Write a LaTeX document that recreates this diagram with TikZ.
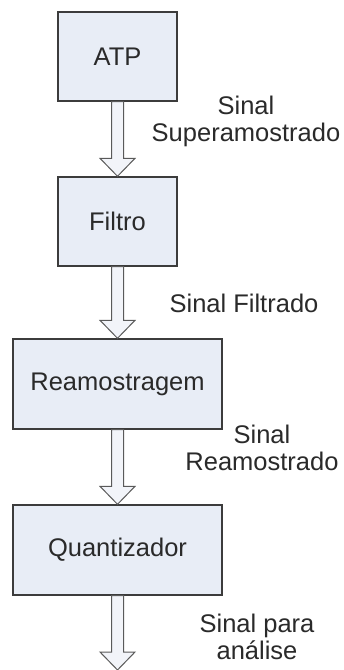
\documentclass[tikz,border=0pt]{standalone}
\usepackage{fontspec}
\setmainfont{Liberation Sans}
\usetikzlibrary{calc}

\definecolor{boxfill}{HTML}{E8EDF6}
\definecolor{boxline}{HTML}{3C3C3C}
\definecolor{arrowfill}{HTML}{F2F4F9}
\definecolor{arrowline}{HTML}{5A5A5A}
\definecolor{txt}{HTML}{2A2A2A}

\tikzset{
  stage/.style={draw=boxline, fill=boxfill, line width=1.4pt, inner sep=0pt,
    text=txt, font=\fontsize{25.5}{28}\selectfont},
  sigtext/.style={text=txt, align=center, inner sep=0pt,
    font=\fontsize{25.5}{27}\selectfont},
  blockarrow/.style={draw=arrowline, fill=arrowfill, line width=1pt, line join=miter}
}

% hollow block arrow from the bottom of #1 to point #2 (shaft 12, head 35 wide, 18 long)
\newcommand{\flowarrow}[2]{%
  \path[blockarrow]
    ($(#1.south)+(-6,0)$) -- ($(#2)+(-6,-18)$) -- ($(#2)+(-17.5,-18)$) --
    (#2) -- ($(#2)+(17.5,-18)$) -- ($(#2)+(6,-18)$) -- ($(#1.south)+(6,0)$) -- cycle;}

\begin{document}
\begin{tikzpicture}[x=1pt,y=-1pt]
  \useasboundingbox[fill=white] (0,0) rectangle (344,670);

  \node[stage, minimum width=119pt, minimum height=89pt] (atp)    at (117.5,56.5) {ATP};
  \node[stage, minimum width=119pt, minimum height=89pt] (filtro) at (117.5,221.5) {Filtro};
  \node[stage, minimum width=209pt, minimum height=90pt] (ream)   at (117.5,384) {Reamostragem};
  \node[stage, minimum width=209pt, minimum height=90pt] (quant)  at (117.5,550) {Quantizador};
  \coordinate (out) at (117.5,670);

  \flowarrow{atp}{filtro.north}
  \flowarrow{filtro}{ream.north}
  \flowarrow{ream}{quant.north}
  \flowarrow{quant}{out}

  \node[sigtext] (l1) at (246,121) {Sinal\\Superamostrado};
  \node[sigtext] (l2) at (244,303) {Sinal Filtrado};
  \node[sigtext] (l3) at (262,448) {Sinal\\Reamostrado};
  \node[sigtext] (l4) at (257,637) {Sinal para\\análise};
\end{tikzpicture}
\end{document}
